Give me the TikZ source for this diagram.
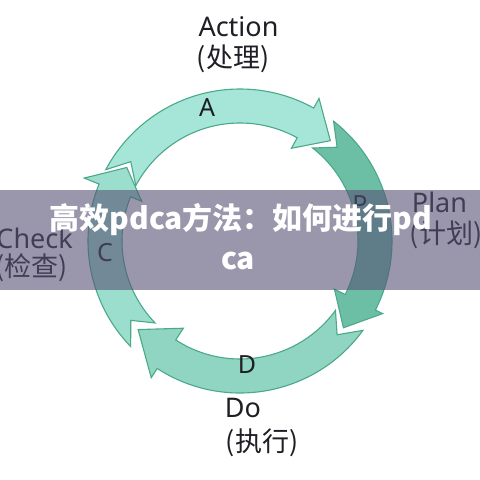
\documentclass[tikz,border=0pt]{standalone}
\usepackage{fontspec}
\setmainfont{Noto Sans CJK SC}
\newfontfamily\latinfont{Noto Sans}
\definecolor{colA}{HTML}{A6E6D8}
\definecolor{colP}{HTML}{6CBFA5}
\definecolor{colD}{HTML}{8FD5C1}
\definecolor{colC}{HTML}{9CDECD}
\definecolor{edgecol}{HTML}{4BA98A}
\definecolor{txt}{HTML}{1E1E24}
\definecolor{bannercol}{RGB}{87,82,117}
\newcommand\pdcaarrow[7]{%
  \filldraw[arrowshape, fill=#7] (#1:152pt) arc[start angle=#1, end angle=#3, radius=152pt]
    -- (#3:#5) -- (#4:135pt) -- (#3:#6) -- (#3:118pt)
    arc[start angle=#3, end angle=#1, radius=118pt] -- (#2:135pt) -- cycle;}
\begin{document}
\begin{tikzpicture}[x=1pt,y=1pt,
  arrowshape/.style={draw=edgecol, line width=1.1pt, line join=miter},
  letter/.style={text=txt, font=\latinfont\fontsize{25}{27}\selectfont, inner sep=0pt},
  label/.style={text=txt, font=\latinfont\fontsize{27}{30}\selectfont, inner sep=0pt, anchor=base},
  cjklabel/.style={text=txt, font=\fontsize{27}{30}\selectfont, inner sep=0pt, anchor=base},
  banner/.style={text=white, font=\bfseries\fontsize{30}{32}\selectfont, inner sep=0pt, anchor=base}]
\useasboundingbox (0,0) rectangle (480,480);
\fill[white] (0,0) rectangle (480,480);
\begin{scope}[shift={(240,239)}]
  \pdcaarrow{152}{144}{61}{48}{163pt}{106pt}{colA}
  \pdcaarrow{52}{44}{-27}{-40}{160pt}{106pt}{colP}
  \pdcaarrow{-36}{-44}{-123}{-139}{163pt}{104pt}{colD}
  \pdcaarrow{-136}{-144}{-202}{-213}{168pt}{106pt}{colC}
\end{scope}
\node[letter] (la) at (207,372) {A};
\node[letter] (lp) at (360,275) {P};
\node[letter] (ld) at (247,115) {D};
\node[letter] (lc) at (105,227) {C};
\node[label] (act) at (238.5,443) {Action};
\node[cjklabel] (act2) at (233,412) {(处理)};
\node[label] (plan) at (439.5,267) {Plan};
\node[cjklabel] (plan2) at (446,236) {(计划)};
\node[label, anchor=base east] (chk) at (73,231) {Check};
\node[cjklabel, anchor=base east] (chk2) at (68,203) {(检查)};
\node[label] (do) at (243,62) {Do};
\node[cjklabel] (do2) at (262,28) {(执行)};
\fill[bannercol, opacity=0.6] (0,190) rectangle (480,290);
\node[banner] (t1) at (241,250) {高效pdca方法：如何进行pd};
\node[banner] (t2) at (238,210) {ca};
\end{tikzpicture}
\end{document}
